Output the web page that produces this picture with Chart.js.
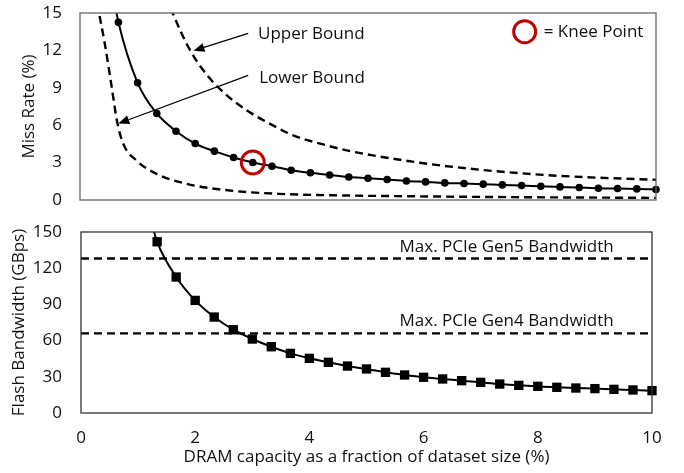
<!DOCTYPE html>
<html><head><meta charset="utf-8">
<script src="https://cdn.jsdelivr.net/npm/chart.js@4.4.0/dist/chart.umd.min.js"></script>
<style>
html,body{margin:0;padding:0;background:#fff;}
#wrap{position:relative;width:684px;height:473px;overflow:hidden;}
#c1{position:absolute;left:0;top:0;}
#c2{position:absolute;left:0;top:215px;}
</style></head><body>
<div id="wrap"><canvas id="c1" width="684" height="215"></canvas><canvas id="c2" width="684" height="258"></canvas></div>
<script>
// ---------- DATA ----------
// Top panel: miss rate (%) vs DRAM capacity (% of dataset)
const missX = [0.6, 0.667, 1, 1.333, 1.667, 2, 2.333, 2.667, 3, 3.333, 3.667, 4, 4.333, 4.667,
  5, 5.333, 5.667, 6, 6.333, 6.667, 7, 7.333, 7.667, 8, 8.333, 8.667, 9, 9.333, 9.667, 10];
const missRate = [15.9, 14.25, 9.40, 6.94, 5.52, 4.53, 3.92, 3.41, 3.01, 2.71, 2.39, 2.18, 2.01, 1.85,
  1.75, 1.64, 1.53, 1.45, 1.37, 1.32, 1.27, 1.21, 1.16, 1.10, 1.05, 1.00, 0.94, 0.92, 0.89, 0.84];
const upperX = [1.5, 1.61, 1.91, 2.23, 2.55, 2.89, 3.24, 3.70, 4.17, 4.63, 5.06, 5.90, 6.77, 7.64, 8.51, 10];
const upperY = [16.4, 15.0, 12.02, 9.88, 8.40, 7.20, 6.26, 5.19, 4.52, 3.98, 3.60, 2.99, 2.51, 2.15, 1.89, 1.62];
const lowerX = [0.30, 0.33, 0.43, 0.55, 0.64, 0.75, 0.98, 1.33, 1.85, 2.60, 3.47, 4.63, 5.50, 7.50, 10];
const lowerY = [15.8, 15.0, 12.56, 9.07, 6.39, 4.52, 3.17, 2.10, 1.30, 0.76, 0.49, 0.36, 0.31, 0.23, 0.17];
const kneeX = 3;
const missTicks = [0, 3, 6, 9, 12, 15];

// Bottom panel: flash bandwidth (GBps)
const bwX = [1.25, 1.333, 1.667, 2, 2.333, 2.667, 3, 3.333, 3.667, 4, 4.333, 4.667,
  5, 5.333, 5.667, 6, 6.333, 6.667, 7, 7.333, 7.667, 8, 8.333, 8.667, 9, 9.333, 9.667, 10];
const bandwidth = [155, 141.9, 112.7, 93.3, 79.5, 69.0, 61.3, 54.9, 49.4, 45.3, 42.0, 38.9,
  36.5, 33.7, 31.5, 29.6, 28.2, 26.8, 25.4, 24.0, 22.9, 22.1, 21.3, 20.7, 20.2, 19.6, 19.1, 18.5];
const pcieGen5 = 128;
const pcieGen4 = 66;
const bwTicks = [0, 30, 60, 90, 120, 150];
const xTicks = [0, 2, 4, 6, 8, 10];

const labels = {
  yTop: 'Miss Rate (%)',
  yBottom: 'Flash Bandwidth (GBps)',
  x: 'DRAM capacity as a fraction of dataset size (%)',
  upper: 'Upper Bound',
  lower: 'Lower Bound',
  knee: '= Knee Point',
  gen5: 'Max. PCIe Gen5 Bandwidth',
  gen4: 'Max. PCIe Gen4 Bandwidth'
};

// ---------- STYLE ----------
const FONT = '"Open Sans", "Noto Sans", sans-serif';
const FS = 17;
const TXT = '#111';
const RED = '#C00000';
const DASH = [8, 5];
const DW = 2.4;
Chart.defaults.font.family = FONT;
Chart.defaults.font.size = FS;
Chart.defaults.color = TXT;
Chart.defaults.animation = false;

const pts = (xs, ys) => xs.map((x, i) => ({x, y: ys[i]}));

function arrow(ctx, x1, y1, x2, y2) {
  const ang = Math.atan2(y2 - y1, x2 - x1);
  const hl = 11, hw = 4.5;
  const bx = x2 - hl * Math.cos(ang), by = y2 - hl * Math.sin(ang);
  ctx.beginPath();
  ctx.moveTo(x1, y1); ctx.lineTo(bx, by);
  ctx.lineWidth = 1.2; ctx.strokeStyle = '#000'; ctx.setLineDash([]); ctx.stroke();
  ctx.beginPath();
  ctx.moveTo(x2, y2);
  ctx.lineTo(bx + hw * Math.sin(ang), by - hw * Math.cos(ang));
  ctx.lineTo(bx - hw * Math.sin(ang), by + hw * Math.cos(ang));
  ctx.closePath(); ctx.fillStyle = '#000'; ctx.fill();
}

const borderPlugin = (color) => ({
  id: 'frame',
  afterDraw(chart) {
    const {ctx, chartArea: a} = chart;
    ctx.save();
    ctx.strokeStyle = color; ctx.lineWidth = 1.3; ctx.setLineDash([]);
    ctx.strokeRect(a.left, a.top, a.right - a.left, a.bottom - a.top);
    ctx.restore();
  }
});

// annotation anchors in data units
const topNotes = {
  upperTip: [1.97, 11.97], upperTail: [2.92, 13.37], upperText: [3.09, 13.31],
  lowerTip: [0.665, 6.13], lowerTail: [2.92, 10.0], lowerText: [3.11, 9.75],
  kneeMark: [7.72, 13.5], kneeText: [8.05, 13.5]
};
const botNotes = { gen5Text: [9.33, 137.3], gen4Text: [9.33, 76.2] };

const topNotesPlugin = {
  id: 'topNotes',
  afterDatasetsDraw(chart) {
    const {ctx, scales: {x, y}} = chart;
    const P = (p) => [x.getPixelForValue(p[0]), y.getPixelForValue(p[1])];
    ctx.save();
    let a = P(topNotes.upperTail), b = P(topNotes.upperTip);
    arrow(ctx, a[0], a[1], b[0], b[1]);
    a = P(topNotes.lowerTail); b = P(topNotes.lowerTip);
    arrow(ctx, a[0], a[1], b[0], b[1]);
    ctx.font = FS + 'px ' + FONT; ctx.fillStyle = TXT;
    ctx.textAlign = 'left'; ctx.textBaseline = 'middle';
    let t = P(topNotes.upperText); ctx.fillText(labels.upper, t[0], t[1]);
    t = P(topNotes.lowerText); ctx.fillText(labels.lower, t[0], t[1]);
    t = P(topNotes.kneeText); ctx.fillText(labels.knee, t[0], t[1]);
    const k = P(topNotes.kneeMark);
    ctx.beginPath(); ctx.arc(k[0], k[1], 11, 0, Math.PI * 2);
    ctx.lineWidth = 3; ctx.strokeStyle = RED; ctx.stroke();
    ctx.restore();
  }
};

const botNotesPlugin = {
  id: 'botNotes',
  afterDatasetsDraw(chart) {
    const {ctx, scales: {x, y}} = chart;
    ctx.save();
    ctx.font = FS + 'px ' + FONT; ctx.fillStyle = TXT;
    ctx.textAlign = 'right'; ctx.textBaseline = 'middle';
    ctx.fillText(labels.gen5, x.getPixelForValue(botNotes.gen5Text[0]), y.getPixelForValue(botNotes.gen5Text[1]));
    ctx.fillText(labels.gen4, x.getPixelForValue(botNotes.gen4Text[0]), y.getPixelForValue(botNotes.gen4Text[1]));
    ctx.restore();
  }
};

const kneeIdx = missX.indexOf(kneeX);
const clipTop = {left: 10, right: 10, top: 0, bottom: 10};

// ---------- TOP CHART ----------
new Chart(document.getElementById('c1'), {
  type: 'line',
  data: {
    datasets: [
      { data: [{x: kneeX, y: missRate[kneeIdx]}], showLine: false, pointRadius: 11.5,
        pointBorderWidth: 3, pointBorderColor: RED, pointBackgroundColor: 'rgba(0,0,0,0)', clip: 20 },
      { data: pts(missX, missRate), borderColor: '#000', borderWidth: 2,
        pointRadius: (c) => c.dataIndex === 0 ? 0 : 3.8, pointBackgroundColor: '#000', pointBorderWidth: 0,
        cubicInterpolationMode: 'monotone', clip: clipTop },
      { data: pts(upperX, upperY), borderColor: '#000', borderWidth: DW, borderDash: DASH,
        pointRadius: 0, cubicInterpolationMode: 'monotone', clip: clipTop },
      { data: pts(lowerX, lowerY), borderColor: '#000', borderWidth: DW, borderDash: DASH,
        pointRadius: 0, cubicInterpolationMode: 'monotone', clip: clipTop }
    ]
  },
  options: {
    responsive: false,
    layout: { autoPadding: false, padding: {left: 0, right: 28, top: 13, bottom: 15} },
    plugins: { legend: {display: false}, tooltip: {enabled: false} },
    scales: {
      x: { type: 'linear', min: 0, max: 10, display: false },
      y: {
        min: 0, max: 15,
        afterBuildTicks: (s) => { s.ticks = missTicks.map(v => ({value: v})); },
        afterFit: (s) => { s.width = 80; },
        grid: {display: false, drawTicks: true, tickLength: 18},
        border: {display: false},
        ticks: {padding: 0, color: TXT, font: {size: FS}},
        title: {display: true, text: labels.yTop, color: TXT, font: {size: FS}, padding: {top: 19, bottom: 0}}
      }
    }
  },
  plugins: [topNotesPlugin, borderPlugin('#666')]
});

// ---------- BOTTOM CHART ----------
new Chart(document.getElementById('c2'), {
  type: 'line',
  data: {
    datasets: [
      { data: pts(bwX, bandwidth), borderColor: '#000', borderWidth: 2,
        pointStyle: 'rect', pointRadius: (c) => c.dataIndex === 0 ? 0 : 6.6,
        pointBackgroundColor: '#000', pointBorderWidth: 0,
        cubicInterpolationMode: 'monotone', clip: clipTop },
      { data: [{x: 0, y: pcieGen5}, {x: 10, y: pcieGen5}], borderColor: '#000', borderWidth: DW,
        borderDash: DASH, pointRadius: 0 },
      { data: [{x: 0, y: pcieGen4}, {x: 10, y: pcieGen4}], borderColor: '#000', borderWidth: DW,
        borderDash: DASH, pointRadius: 0 }
    ]
  },
  options: {
    responsive: false,
    layout: { autoPadding: false, padding: {left: 0, right: 32, top: 17, bottom: 0} },
    plugins: { legend: {display: false}, tooltip: {enabled: false} },
    scales: {
      x: {
        type: 'linear', min: 0, max: 10,
        afterBuildTicks: (s) => { s.ticks = xTicks.map(v => ({value: v})); },
        afterFit: (s) => { s.height = 60; },
        grid: {display: false, drawTicks: false},
        border: {display: false},
        ticks: {padding: 15, color: TXT, font: {size: FS}, maxRotation: 0},
        title: {display: true, text: labels.x, color: TXT, font: {size: FS}, padding: {top: 0, bottom: 6}}
      },
      y: {
        min: 0, max: 150,
        afterBuildTicks: (s) => { s.ticks = bwTicks.map(v => ({value: v})); },
        afterFit: (s) => { s.width = 81; },
        grid: {display: false, drawTicks: true, tickLength: 19},
        border: {display: false},
        ticks: {padding: 0, color: TXT, font: {size: FS}},
        title: {display: true, text: labels.yBottom, color: TXT, font: {size: FS}, padding: {top: 9, bottom: 0}}
      }
    }
  },
  plugins: [botNotesPlugin, borderPlugin('#333')]
});
</script>
</body></html>
